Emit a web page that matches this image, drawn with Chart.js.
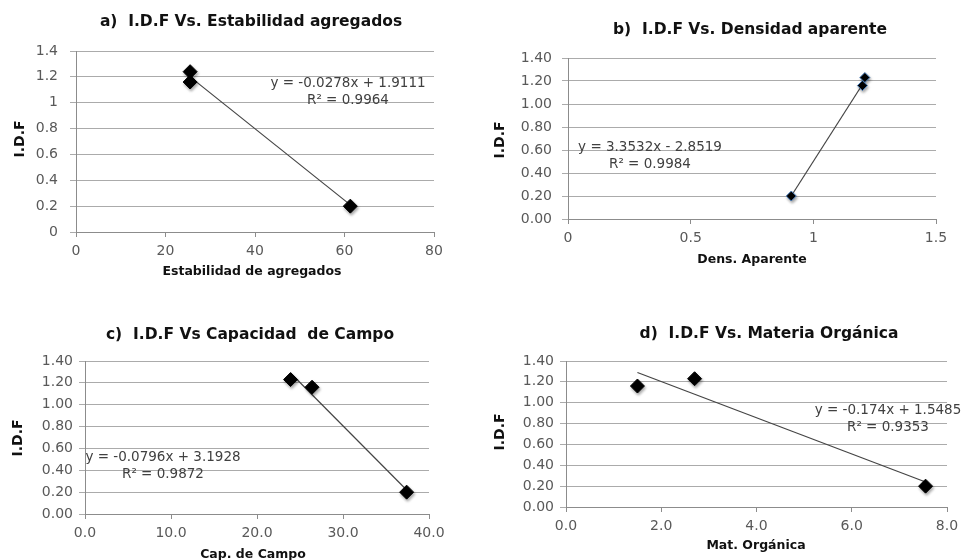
<!DOCTYPE html>
<html>
<head>
<meta charset="utf-8">
<script src="https://cdn.jsdelivr.net/npm/chart.js@4.4.1/dist/chart.umd.min.js"></script>
<style>
  body { margin: 0; background: #fff; }
  #wrap { position: relative; width: 965px; height: 560px; }
  canvas { position: absolute; }
</style>
</head>
<body>
<div id="wrap">
  <canvas id="chartA" width="480" height="280" style="left:0;top:0"></canvas>
  <canvas id="chartB" width="485" height="280" style="left:480px;top:0"></canvas>
  <canvas id="chartC" width="480" height="280" style="left:0;top:280px"></canvas>
  <canvas id="chartD" width="485" height="280" style="left:480px;top:280px"></canvas>
</div>
<script>
// values
const idfValues = [1.24, 1.16, 0.20];

const estabX = [25.5, 25.5, 61.3];
const estabY = idfValues;
const estabTrendX = [25.5, 61.3];
const estabTrendY = [1.20, 0.21];

const densX = [1.21, 1.20, 0.91];
const densY = [1.23, 1.16, 0.20];
const densTrendX = [0.91, 1.20];
const densTrendY = [0.20, 1.17];

const campoX = [23.9, 26.4, 37.4];
const campoY = [1.23, 1.16, 0.20];
const campoTrendX = [23.9, 37.4];
const campoTrendY = [1.29, 0.22];

const organicaX = [1.5, 2.7, 7.55];
const organicaY = [1.16, 1.23, 0.20];
const organicaTrendX = [1.5, 7.55];
const organicaTrendY = [1.29, 0.24];

const panelTitles = [
  'a)  I.D.F Vs. Estabilidad agregados',
  'b)  I.D.F Vs. Densidad aparente',
  'c)  I.D.F Vs Capacidad  de Campo',
  'd)  I.D.F Vs. Materia Orgánica'
];
const xTitles = ['Estabilidad de agregados', 'Dens. Aparente', 'Cap. de Campo', 'Mat. Orgánica'];
const equations = [
  ['y = -0.0278x + 1.9111', 'R² = 0.9964'],
  ['y = 3.3532x - 2.8519', 'R² = 0.9984'],
  ['y = -0.0796x + 3.1928', 'R² = 0.9872'],
  ['y = -0.174x + 1.5485', 'R² = 0.9353']
];

const TICK_FONT = { family: 'DejaVu Sans', size: 14 };
const TICK_COLOR = '#595959';
const GRID_COLOR = '#ababab';

function toPairs(xs, ys) {
  return xs.map((x, i) => ({ x, y: ys[i] }));
}

// titles and equation labels drawn at fixed spots on each canvas
const labelsPlugin = {
  id: 'panelLabels',
  afterDraw(chart) {
    const o = chart.options.plugins.panelLabels;
    const ctx = chart.ctx;
    ctx.save();
    ctx.textAlign = 'center';
    ctx.textBaseline = 'middle';
    ctx.fillStyle = '#111';
    ctx.font = 'bold 15.5px "DejaVu Sans"';
    ctx.fillText(o.title, o.titlePos[0], o.titlePos[1]);
    ctx.font = 'bold 12.5px "DejaVu Sans"';
    ctx.fillText(o.xTitle, o.xTitlePos[0], o.xTitlePos[1]);
    ctx.save();
    ctx.translate(o.yTitlePos[0], o.yTitlePos[1]);
    ctx.rotate(-Math.PI / 2);
    ctx.font = 'bold 14px "DejaVu Sans"';
    ctx.fillText('I.D.F', 0, 0);
    ctx.restore();
    ctx.fillStyle = '#404040';
    ctx.font = '13.5px "DejaVu Sans"';
    ctx.fillText(o.eq[0], o.eqPos[0], o.eqPos[1]);
    ctx.fillText(o.eq[1], o.eqPos[0], o.eqPos[1] + 17);
    ctx.restore();
  },
  beforeDatasetDraw(chart, args) {
    if (args.index !== 0) return;
    const ctx = chart.ctx;
    ctx.save();
    ctx.shadowColor = 'rgba(0,0,0,0.35)';
    ctx.shadowBlur = 3;
    ctx.shadowOffsetX = 1;
    ctx.shadowOffsetY = 2;
  },
  afterDatasetDraw(chart, args) {
    if (args.index !== 0) return;
    chart.ctx.restore();
  }
};

function makePanel(id, p) {
  const W = p.width, H = p.height;
  const yAxisW = 60, xAxisH = 30;
  new Chart(document.getElementById(id), {
    type: 'scatter',
    data: {
      datasets: [
        {
          data: toPairs(p.xs, p.ys),
          pointStyle: 'rectRot',
          pointRadius: p.markerSize,
          pointBackgroundColor: '#000',
          pointBorderColor: p.markerEdge,
          pointBorderWidth: p.markerEdgeW
        },
        {
          data: toPairs(p.trendX, p.trendY),
          showLine: true,
          pointRadius: 0,
          borderColor: '#444',
          borderWidth: 1.2
        }
      ]
    },
    options: {
      responsive: false,
      animation: false,
      events: [],
      layout: {
        padding: {
          left: p.area[0] - yAxisW,
          top: p.area[1],
          right: W - p.area[2],
          bottom: H - p.area[3] - xAxisH
        }
      },
      plugins: {
        legend: { display: false },
        tooltip: { enabled: false },
        panelLabels: p.labels
      },
      scales: {
        x: {
          type: 'linear',
          min: p.xMin, max: p.xMax,
          afterFit(scale) { scale.height = xAxisH; },
          ticks: {
            stepSize: p.xStep,
            font: TICK_FONT, color: TICK_COLOR, padding: 6,
            callback: p.xFmt
          },
          grid: { color: 'rgba(0,0,0,0)', tickColor: '#8c8c8c', tickLength: 5 },
          border: { display: true, color: '#8c8c8c' }
        },
        y: {
          type: 'linear',
          min: 0, max: 1.4,
          afterFit(scale) { scale.width = yAxisW; },
          ticks: {
            stepSize: 0.2,
            font: TICK_FONT, color: TICK_COLOR, padding: p.yPad,
            callback: p.yFmt
          },
          grid: { color: GRID_COLOR, tickColor: GRID_COLOR, tickLength: 6 },
          border: { display: true, color: '#8c8c8c' }
        }
      }
    },
    plugins: [labelsPlugin]
  });
}

const fmtGeneral = (v) => String(+v.toFixed(2));
const fmt2 = (v) => v.toFixed(2);
const fmt1 = (v) => v.toFixed(1);

makePanel('chartA', {
  width: 480, height: 280, area: [76, 51, 434, 232],
  xs: estabX, ys: estabY, trendX: estabTrendX, trendY: estabTrendY,
  xMin: 0, xMax: 80, xStep: 20, xFmt: fmtGeneral, yFmt: fmtGeneral, yPad: 12,
  markerSize: 7, markerEdge: '#000', markerEdgeW: 1,
  labels: {
    title: panelTitles[0], titlePos: [251, 22],
    xTitle: xTitles[0], xTitlePos: [252, 272],
    yTitlePos: [20, 139],
    eq: equations[0], eqPos: [348, 83]
  }
});

makePanel('chartB', {
  width: 485, height: 280, area: [88, 58, 456, 219],
  xs: densX, ys: densY, trendX: densTrendX, trendY: densTrendY,
  xMin: 0, xMax: 1.5, xStep: 0.5, xFmt: fmtGeneral, yFmt: fmt2, yPad: 10,
  markerSize: 5, markerEdge: '#4a7ebb', markerEdgeW: 1,
  labels: {
    title: panelTitles[1], titlePos: [270, 30],
    xTitle: xTitles[1], xTitlePos: [272, 260],
    yTitlePos: [20, 140],
    eq: equations[1], eqPos: [170, 147]
  }
});

makePanel('chartC', {
  width: 480, height: 280, area: [85, 81, 429, 234],
  xs: campoX, ys: campoY, trendX: campoTrendX, trendY: campoTrendY,
  xMin: 0, xMax: 40, xStep: 10, xFmt: fmt1, yFmt: fmt2, yPad: 6,
  markerSize: 7, markerEdge: '#000', markerEdgeW: 1,
  labels: {
    title: panelTitles[2], titlePos: [250, 55],
    xTitle: xTitles[2], xTitlePos: [253, 275],
    yTitlePos: [18, 158],
    eq: equations[2], eqPos: [163, 177]
  }
});

makePanel('chartD', {
  width: 485, height: 280, area: [86, 81, 467, 227],
  xs: organicaX, ys: organicaY, trendX: organicaTrendX, trendY: organicaTrendY,
  xMin: 0, xMax: 8, xStep: 2, xFmt: fmt1, yFmt: fmt2, yPad: 6,
  markerSize: 7, markerEdge: '#000', markerEdgeW: 1,
  labels: {
    title: panelTitles[3], titlePos: [289, 54],
    xTitle: xTitles[3], xTitlePos: [276, 266],
    yTitlePos: [20, 152],
    eq: equations[3], eqPos: [408, 130]
  }
});
</script>
</body>
</html>
